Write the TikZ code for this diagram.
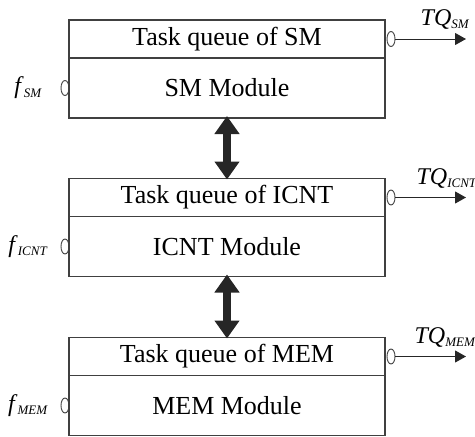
\documentclass[tikz,border=0pt]{standalone}
\usepackage{fontspec}
\setmainfont{Liberation Serif}
\usetikzlibrary{positioning,shapes.geometric,arrows.meta}
\newcommand{\varsub}[2]{\textit{#1}\raisebox{-0.3ex}{\fontsize{13}{13}\selectfont\textit{#2}}}
\tikzset{
  every picture/.style={line width=1.2pt},
  qrow/.style={draw=black!75, rectangle, minimum width=316pt, minimum height=38pt,
               inner sep=0pt, outer sep=0pt, font=\fontsize{26}{26}\selectfont},
  mrow/.style={qrow, minimum height=60pt},
  port/.style={ellipse, draw=black!75, line width=0.9pt, minimum width=8pt,
               minimum height=15pt, inner sep=0pt, outer sep=0pt},
  outarr/.style={-{Triangle[length=11pt,width=12pt]}, line width=1pt, black!85},
  linkarr/.style={{Triangle[length=18pt,width=24pt]}-{Triangle[length=18pt,width=24pt]},
                  line width=8pt, black!85},
  vlabel/.style={font=\fontsize{24}{24}\selectfont, inner sep=0pt},
}

\begin{document}
\begin{tikzpicture}[x=1pt,y=-1pt]
  \useasboundingbox (0,0) rectangle (475,437);
  % modules
  \node[qrow] (smq) at (227,39) {Task queue of SM};
  \node[mrow, below=0pt of smq] (smm) {SM Module};
  \node[qrow] (icq) at (227,197.5) {Task queue of ICNT};
  \node[mrow, below=0pt of icq] (icm) {ICNT Module};
  \node[qrow] (memq) at (227,356.5) {Task queue of MEM};
  \node[mrow, below=0pt of memq] (memm) {MEM Module};
  % links between modules
  \draw[linkarr] ([yshift=2pt]smm.south) -- ([yshift=-1pt]icq.north);
  \draw[linkarr] ([yshift=2pt]icm.south) -- ([yshift=-1pt]memq.north);
  % outputs
  \node[port, right=2pt of smq] (smout) {};
  \coordinate[right=71pt of smout] (smend);
  \draw[outarr] (smout) -- (smend);
  \node[vlabel, above=9pt of smend, xshift=-21pt] (smtq) {\varsub{TQ}{SM}};
  \node[port, right=2pt of icq] (icout) {};
  \coordinate[right=71pt of icout] (icend);
  \draw[outarr] (icout) -- (icend);
  \node[vlabel, above=9pt of icend, anchor=south west, xshift=-50pt] (ictq) {\varsub{TQ}{ICNT}};
  \node[port, right=2pt of memq] (memout) {};
  \coordinate[right=71pt of memout] (memend);
  \draw[outarr] (memout) -- (memend);
  \node[vlabel, above=9pt of memend, anchor=south west, xshift=-52pt] (memtq) {\varsub{TQ}{MEM}};
  % inputs
  \node[port, left=0pt of smm] (smin) {};
  \node[vlabel] (smf) at ([xshift=-37pt]smin.center) {\varsub{f}{SM}};
  \node[port, left=0pt of icm] (icin) {};
  \node[vlabel] (icf) at ([xshift=-37pt]icin.center) {\varsub{f}{ICNT}};
  \node[port, left=0pt of memm] (memin) {};
  \node[vlabel] (memf) at ([xshift=-37pt]memin.center) {\varsub{f}{MEM}};
\end{tikzpicture}
\end{document}
